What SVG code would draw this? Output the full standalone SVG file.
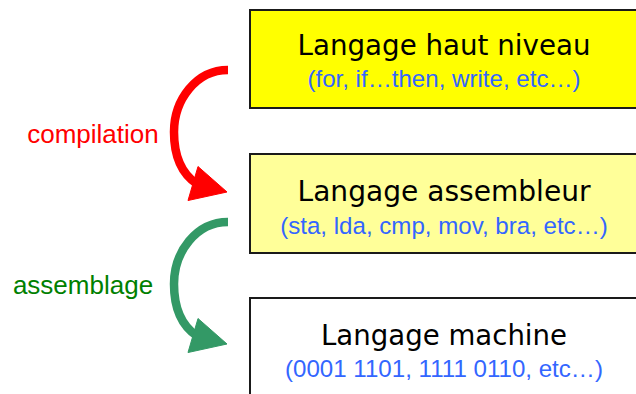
<svg xmlns="http://www.w3.org/2000/svg" width="636" height="394" viewBox="0 0 636 394">
<style>
.box{stroke:#1a1a1a;stroke-width:2}
.title{font-family:"DejaVu Sans","Liberation Sans",sans-serif;font-size:28px;fill:#000;text-anchor:middle}
.sub{font-family:"Liberation Sans",Arial,sans-serif;font-size:24.1px;fill:#3366ff;text-anchor:middle}
.lbl{font-family:"Liberation Sans",Arial,sans-serif;font-size:26px;text-anchor:middle}
.shaft{fill:none;stroke-width:8.5}
</style>
<defs>
<g id="arrow">
<path class="shaft" d="M228,70 C196,70 174,100 174,132 C174,158 182,174 197,184"/>
<polygon points="198,166.5 227,192 188,200.5"/>
</g>
</defs>
<rect width="636" height="394" fill="#fff"/>
<g id="node-haut">
<rect class="box" x="250" y="10" width="400" height="98" fill="#ffff00"/>
<text class="title" x="444" y="55" textLength="293" lengthAdjust="spacingAndGlyphs">Langage haut niveau</text>
<text class="sub" x="444" y="87">(for, if…then, write, etc…)</text>
</g>
<g id="node-assembleur">
<rect class="box" x="250" y="154" width="400" height="99" fill="#ffff99"/>
<text class="title" x="444" y="201" textLength="293" lengthAdjust="spacingAndGlyphs">Langage assembleur</text>
<text class="sub" x="444" y="234">(sta, lda, cmp, mov, bra, etc…)</text>
</g>
<g id="node-machine">
<rect class="box" x="250" y="298" width="400" height="110" fill="#ffffff"/>
<text class="title" x="444" y="345" textLength="246" lengthAdjust="spacingAndGlyphs">Langage machine</text>
<text class="sub" x="444" y="377">(0001 1101, 1111 0110, etc…)</text>
</g>
<g id="connectors">
<g stroke="#ff0000" fill="#ff0000"><use href="#arrow"/></g>
<g stroke="#339966" fill="#339966" transform="translate(0,152)"><use href="#arrow"/></g>
<text class="lbl" x="93" y="143" fill="#ff0000">compilation</text>
<text class="lbl" x="83" y="294" fill="#008000">assemblage</text>
</g>
</svg>
